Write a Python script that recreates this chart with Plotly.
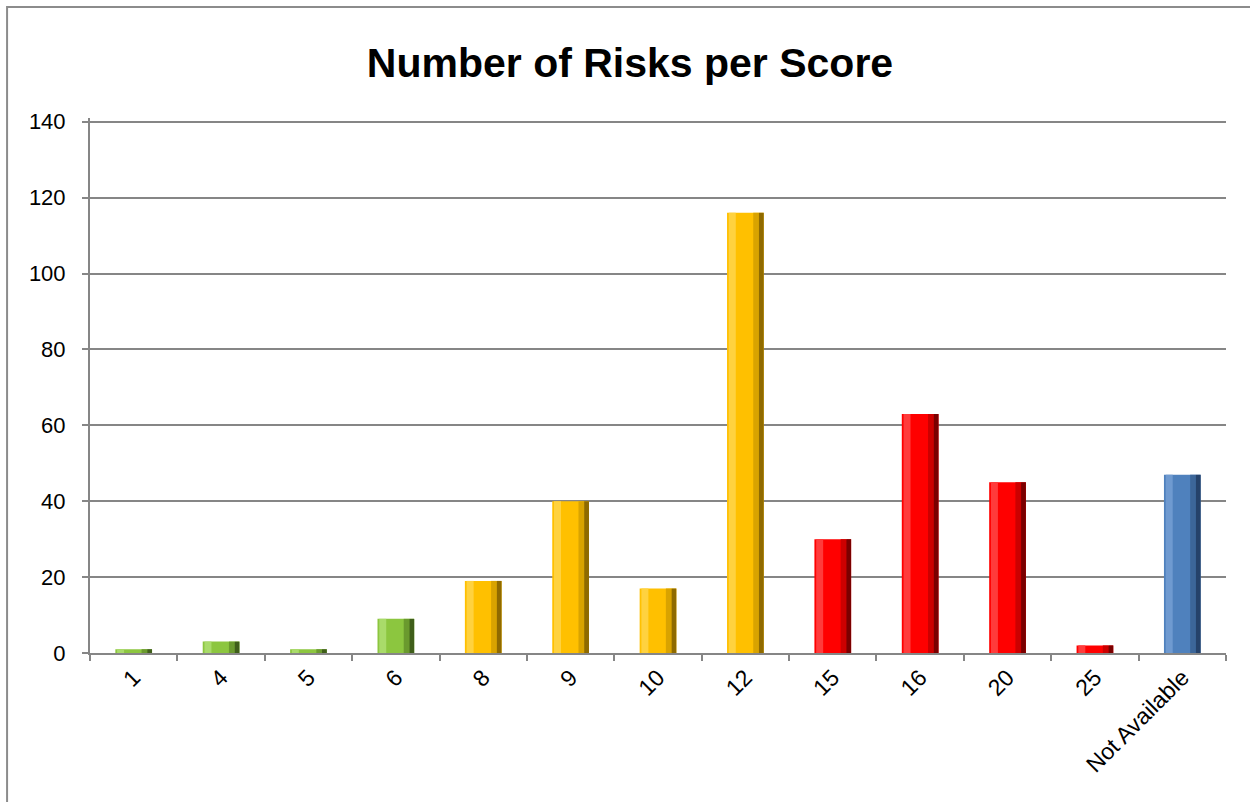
import plotly.graph_objects as go

categories = ["1", "4", "5", "6", "8", "9", "10", "12", "15", "16", "20", "25", "Not Available"]
values = [1, 3, 1, 9, 19, 40, 17, 116, 30, 63, 45, 2, 47]
groups = ["green", "green", "green", "green", "yellow", "yellow", "yellow", "yellow",
          "red", "red", "red", "red", "blue"]
y_ticks = [0, 20, 40, 60, 80, 100, 120, 140]

base = {"green": "#8CC63F", "yellow": "#FFC000", "red": "#FF0000", "blue": "#4F81BD"}
light = {"green": "#A9DB6A", "yellow": "#FFD23F", "red": "#FF3B3B", "blue": "#6F9AD0"}
dark1 = {"green": "#6A9A2E", "yellow": "#D9A300", "red": "#CC0000", "blue": "#3C6699"}
dark2 = {"green": "#3F5E1A", "yellow": "#8F6A00", "red": "#7A0000", "blue": "#25426A"}

fig = go.Figure()
W = 0.42
layers = [
    (base, -W / 2, W),
    (light, -W / 2 + 0.02, 0.08),
    (dark1, W / 2 - 0.12, 0.065),
    (dark2, W / 2 - 0.055, 0.055),
]
for pal, off, w in layers:
    fig.add_trace(go.Bar(
        x=categories, y=values,
        marker=dict(color=[pal[g] for g in groups], line=dict(width=0)),
        offset=off, width=w, hoverinfo="x+y", showlegend=False,
    ))

fig.update_layout(
    barmode="overlay",
    width=1250, height=802,
    margin=dict(l=90, r=24, t=118, b=149),
    paper_bgcolor="white", plot_bgcolor="white",
    font=dict(family="Liberation Sans, Arial, sans-serif", color="black"),
    title=dict(text="<b>Number of Risks per Score</b>", x=0.504, xanchor="center",
               y=0.922, yanchor="middle", font=dict(size=41, color="black")),
    xaxis=dict(
        type="category", showline=True, linecolor="#868686", linewidth=2,
        ticks="outside", ticklen=6, tickcolor="#868686", tickwidth=2,
        tickson="boundaries", tickangle=-45, tickfont=dict(size=23),
        showgrid=False,
    ),
    yaxis=dict(
        range=[0, 141], tickvals=y_ticks, showline=True, linecolor="#868686", linewidth=2,
        ticks="outside", ticklen=6, tickcolor="#868686", tickwidth=2,
        showgrid=True, gridcolor="#868686", gridwidth=1.5, tickfont=dict(size=22),
        ticklabelstandoff=12, zeroline=False,
    ),
    shapes=[dict(type="rect", xref="paper", yref="paper",
                 x0=-0.073, x1=1.2, y0=-0.4, y1=1.2077,
                 line=dict(color="#8C8C8C", width=2), layer="below")],
)

fig.write_html("out.html")
